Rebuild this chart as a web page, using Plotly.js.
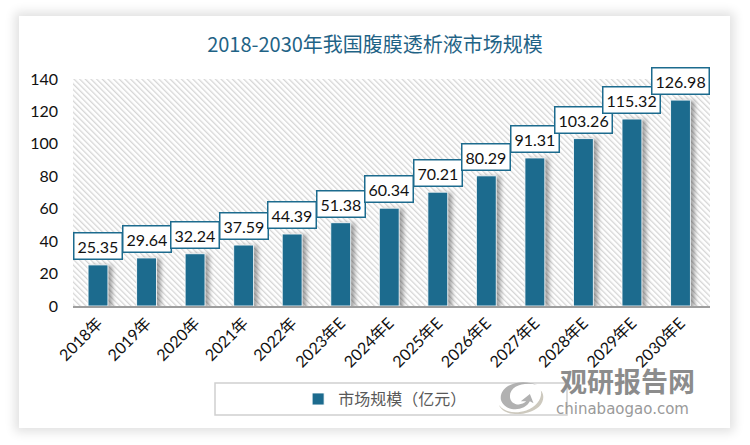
<!DOCTYPE html>
<html>
<head>
<meta charset="utf-8">
<script src="https://cdn.plot.ly/plotly-3.0.1.min.js"></script>
<style>
  html, body { margin:0; padding:0; background:#ffffff; }
  #wrap { position:relative; width:750px; height:445px; overflow:hidden; }
  #card { position:absolute; left:19px; top:16px; width:711px; height:412px; background:#fff;
          box-shadow: 0 0 10px 4px rgba(0,0,0,0.12); }
  #chart { position:absolute; left:0; top:0; width:750px; height:445px; }
  .barlayer .point path { filter: drop-shadow(4px 1px 2px rgba(0,0,0,0.35)); }
</style>
</head>
<body>
<div id="wrap">
  <div id="card"></div>
  <div id="chart"></div>
</div>
<script>
const categories = ['2018年','2019年','2020年','2021年','2022年','2023年E','2024年E','2025年E','2026年E','2027年E','2028年E','2029年E','2030年E'];
const values = [25.35, 29.64, 32.24, 37.59, 44.39, 51.38, 60.34, 70.21, 80.29, 91.31, 103.26, 115.32, 126.98];
const seriesName = '市场规模（亿元）';
const titleText = '2018-2030年我国腹膜透析液市场规模';

const barColor = '#1c6b8e';
const cjk = '"Noto Sans CJK SC"';

const hatchSvg = "<svg xmlns='http://www.w3.org/2000/svg' width='637' height='227'>" +
  "<defs><pattern id='p' width='4' height='4' patternUnits='userSpaceOnUse' patternTransform='rotate(-45)'>" +
  "<rect width='4' height='4' fill='#ffffff'/><rect width='1.3' height='4' fill='#d6d6d6'/></pattern></defs>" +
  "<rect width='637' height='227' fill='url(#p)'/></svg>";

const logoSvg = "<svg xmlns='http://www.w3.org/2000/svg' width='60' height='50' viewBox='0 0 60 50'>" +
  "<path d='M8 28 C6 12 30 4 48 12 C36 8 18 12 18 24 C18 34 30 36 36 30 L30 30 L40 22 L44 32 L40 30 C34 42 12 42 8 28 Z' fill='#a9a9a9'/>" +
  "<path d='M6 34 C10 46 36 48 50 36 C56 30 56 22 52 18 C54 26 48 36 36 40 C24 44 12 42 6 34 Z' fill='#c8c4b8'/>" +
  "</svg>";

const annotations = values.map((v, i) => ({
  x: categories[i], y: v, xref: 'x', yref: 'y',
  text: v.toFixed(2), showarrow: false, yanchor: 'bottom', yshift: 5,
  bgcolor: '#ffffff', bordercolor: '#1c6b8e', borderwidth: 1.5, borderpad: 3,
  font: { family: 'Lato, ' + cjk, size: 16, color: '#111111' }
}));

annotations.push({
  xref: 'paper', yref: 'paper', x: 0.87, y: -0.33, xanchor: 'center', yanchor: 'middle',
  text: '<b>观研报告网</b>', showarrow: false,
  font: { family: cjk, size: 27, color: '#8c8c8c' }
});
annotations.push({
  xref: 'paper', yref: 'paper', x: 0.862, y: -0.455, xanchor: 'center', yanchor: 'middle',
  text: 'chinabaogao.com', showarrow: false,
  font: { family: '"DejaVu Sans"', size: 15, color: '#9a9a9a' }
});

const trace = {
  type: 'bar', x: categories, y: values, name: seriesName,
  marker: { color: barColor, line: { color: 'rgba(255,255,255,0.85)', width: 1 } },
  hoverinfo: 'none'
};

const layout = {
  width: 750, height: 445,
  margin: { l: 73, r: 40, t: 79, b: 139 },
  paper_bgcolor: 'rgba(0,0,0,0)',
  plot_bgcolor: 'rgba(0,0,0,0)',
  bargap: 0.59,
  title: {
    text: titleText, x: 0.5, xanchor: 'center', y: 0.9, yanchor: 'middle', yref: 'container',
    font: { family: cjk, size: 20, color: '#1f6386' }
  },
  xaxis: {
    type: 'category', tickangle: -45, showgrid: false, zeroline: false,
    showline: true, linecolor: '#9e9e9e', linewidth: 1.5, ticks: '',
    tickfont: { family: 'Lato, ' + cjk, size: 16, color: '#111111' }
  },
  yaxis: {
    range: [0, 140], dtick: 20, showgrid: false, zeroline: false, showline: false, ticks: '',
    ticklabelstandoff: 14,
    tickfont: { family: 'Lato, ' + cjk, size: 16, color: '#111111' }
  },
  showlegend: true,
  legend: {
    orientation: 'h', x: 0.49, xanchor: 'center', y: -0.41, yanchor: 'middle',
    bgcolor: 'rgba(0,0,0,0)', itemwidth: 30,
    font: { family: cjk, size: 16, color: '#595959' }
  },
  shapes: [{
    type: 'rect', xref: 'paper', yref: 'paper', layer: 'below',
    x0: (215 - 73) / 637, x1: (567 - 73) / 637, y0: -(415 - 306) / 227, y1: -(383 - 306) / 227,
    line: { color: '#d0d0d0', width: 1.5 }, fillcolor: 'rgba(0,0,0,0)'
  }],
  images: [
    { source: 'data:image/svg+xml;utf8,' + encodeURIComponent(hatchSvg), xref: 'paper', yref: 'paper',
      x: 0, y: 1, sizex: 1, sizey: 1, xanchor: 'left', yanchor: 'top', sizing: 'stretch', layer: 'below' },
    { source: 'data:image/svg+xml;utf8,' + encodeURIComponent(logoSvg), xref: 'paper', yref: 'paper',
      x: 0.703, y: -0.3, sizex: 0.1, sizey: 0.2, xanchor: 'center', yanchor: 'top', sizing: 'contain', layer: 'above', opacity: 0.9 }
  ],
  annotations: annotations
};

Plotly.newPlot('chart', [trace], layout, { displayModeBar: false, staticPlot: true });
</script>
</body>
</html>
